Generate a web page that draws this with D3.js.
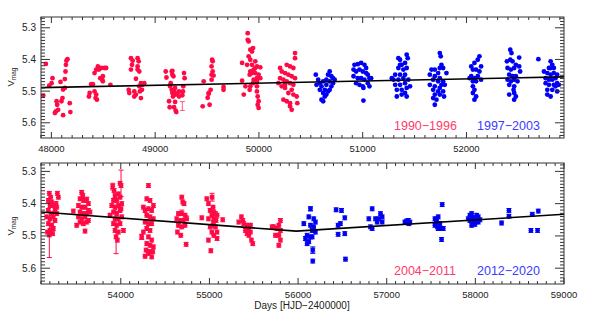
<!DOCTYPE html>
<html><head><meta charset="utf-8">
<script src="https://cdn.jsdelivr.net/npm/d3@7"></script>
<style>body{margin:0;background:#fff}svg{display:block}text{font-family:"Liberation Sans",Arial,sans-serif}</style>
</head><body><svg id="c" width="589" height="324"></svg>
<script>
// ---------- DATA ----------
const topXTicks = [48000, 49000, 50000, 51000, 52000];
const botXTicks = [54000, 55000, 56000, 57000, 58000, 59000];
const yTicks = [5.3, 5.4, 5.5, 5.6];
const topLegend = ["1990\u22121996", "1997\u22122003"];
const botLegend = ["2004\u22122011", "2012\u22122020"];
const xTitle = "Days [HJD\u22122400000]";

const topTrend = [[47900, 5.489], [52940, 5.455]];
const botTrend = [[53100, 5.426], [55980, 5.485], [59000, 5.433]];

// 1990-1996 (red)
const topRed = [
[47947,5.414],[47922,5.514],[47979,5.483],[48011,5.459],[48002,5.475],[48050,5.532],[48043,5.564],[48034,5.569],[48065,5.559],[48056,5.543],[48088,5.471],[48097,5.532],[48107,5.522],[48113,5.576],[48113,5.495],[48130,5.490],[48130,5.462],[48136,5.438],[48140,5.417],[48145,5.404],[48155,5.399],[48177,5.538],[48183,5.566],
[48362,5.517],[48369,5.506],[48384,5.478],[48400,5.478],[48416,5.501],[48426,5.522],[48432,5.511],[48439,5.527],[48416,5.443],[48432,5.432],[48448,5.422],[48458,5.432],[48480,5.427],[48512,5.427],[48528,5.427],[48471,5.459],[48490,5.464],[48496,5.453],[48496,5.469],[48569,5.480],
[48767,5.396],[48783,5.404],[48831,5.396],[48841,5.406],[48777,5.417],[48767,5.432],[48831,5.422],[48831,5.432],[48847,5.438],[48815,5.461],[48745,5.496],[48751,5.506],[48799,5.501],[48799,5.517],[48815,5.511],[48847,5.485],[48863,5.475],[48879,5.480],[48895,5.475],[48853,5.501],[48863,5.522],[48873,5.496],
[49102,5.438],[49109,5.457],[49160,5.438],[49166,5.448],[49176,5.453],[49166,5.436],[49150,5.475],[49144,5.485],[49160,5.496],[49166,5.506],[49182,5.501],[49198,5.511],[49214,5.506],[49230,5.501],[49192,5.490],[49172,5.517],[49134,5.532],[49140,5.551],[49192,5.534],[49182,5.551],[49198,5.562],[49204,5.566],[49278,5.443],[49284,5.459],[49271,5.485],[49268,5.501],[49262,5.513],[49230,5.517],
[49458,5.548],[49468,5.469],[49506,5.521],[49516,5.508],[49525,5.543],[49535,5.496],[49544,5.464],[49544,5.448],[49554,5.438],[49554,5.406],[49544,5.422],[49563,5.451],[49659,5.487],[49659,5.496],[49517,5.506],[49549,5.401],
[49892,5.317],[49892,5.338],[49901,5.343],[49917,5.369],[49943,5.364],[49933,5.375],[49901,5.390],[49917,5.401],[49838,5.411],[49886,5.417],[49933,5.417],[49965,5.406],[49981,5.422],[50013,5.425],[49949,5.432],[49917,5.438],[49933,5.443],[49965,5.443],[49997,5.448],[49981,5.459],[50013,5.459],[49911,5.448],[49949,5.464],[49838,5.467],[49870,5.485],[49917,5.485],[49854,5.511],[49981,5.469],[49981,5.485],[49981,5.501],[49988,5.517],[49997,5.532],[49988,5.543],[49997,5.553],[49911,5.496],[49943,5.475],[49965,5.427],
[50348,5.380],[50348,5.396],[50268,5.417],[50300,5.422],[50332,5.427],[50204,5.427],[50220,5.438],[50252,5.443],[50284,5.448],[50316,5.453],[50348,5.459],[50204,5.459],[50236,5.464],[50268,5.469],[50300,5.475],[50332,5.480],[50188,5.475],[50220,5.485],[50252,5.490],[50316,5.496],[50284,5.506],[50332,5.511],[50364,5.517],[50236,5.527],[50268,5.532],[50300,5.538],[50300,5.548],[50316,5.559],[50370,5.538],[50252,5.480]
];
// 1997-2003 (blue)
const topBlue = [
[50548,5.448],[50571,5.464],[50555,5.480],[50587,5.475],[50603,5.485],[50619,5.469],[50635,5.496],[50650,5.480],[50666,5.448],[50682,5.438],[50698,5.453],[50714,5.459],[50730,5.464],[50682,5.469],[50698,5.485],[50666,5.501],[50619,5.506],[50635,5.517],[50603,5.527],[50650,5.511],[50587,5.496],[50682,5.496],[50650,5.464],[50714,5.475],[50619,5.532],
[50921,5.417],[50953,5.415],[50985,5.411],[51017,5.417],[51033,5.427],[50912,5.432],[50937,5.438],[50969,5.432],[51001,5.438],[51033,5.443],[51049,5.448],[51065,5.459],[51081,5.459],[50912,5.453],[50953,5.459],[50985,5.459],[51017,5.464],[50937,5.475],[50969,5.480],[51001,5.485],[51049,5.475],[51065,5.485],[51007,5.490],[51007,5.530],
[51344,5.396],[51360,5.401],[51424,5.385],[51434,5.396],[51408,5.411],[51376,5.417],[51344,5.427],[51392,5.432],[51424,5.427],[51313,5.448],[51360,5.448],[51408,5.448],[51297,5.464],[51344,5.464],[51392,5.459],[51440,5.464],[51313,5.480],[51360,5.480],[51408,5.475],[51456,5.485],[51329,5.496],[51376,5.496],[51424,5.490],[51329,5.517],[51376,5.511],[51408,5.506],[51424,5.517],[51360,5.417],[51281,5.459],
[51743,5.380],[51752,5.390],[51759,5.417],[51743,5.427],[51775,5.427],[51663,5.432],[51695,5.432],[51727,5.443],[51807,5.443],[51647,5.448],[51695,5.453],[51743,5.459],[51679,5.464],[51727,5.469],[51775,5.469],[51791,5.480],[51647,5.480],[51695,5.485],[51743,5.490],[51679,5.496],[51727,5.501],[51775,5.501],[51695,5.511],[51743,5.511],[51679,5.522],[51711,5.527],[51695,5.543],[51759,5.480],[51784,5.517],
[52125,5.390],[52109,5.401],[52077,5.411],[52141,5.422],[52046,5.422],[52062,5.432],[52093,5.432],[52125,5.438],[52046,5.453],[52077,5.459],[52109,5.453],[52141,5.464],[52030,5.459],[52062,5.485],[52077,5.496],[52062,5.506],[52093,5.517],[52077,5.527],[52062,5.469],[52093,5.469],
[52422,5.369],[52434,5.380],[52390,5.406],[52422,5.401],[52444,5.406],[52476,5.417],[52508,5.422],[52396,5.427],[52428,5.432],[52460,5.427],[52412,5.448],[52444,5.453],[52476,5.453],[52396,5.464],[52428,5.469],[52460,5.464],[52412,5.480],[52460,5.485],[52492,5.469],[52412,5.511],[52460,5.506],[52476,5.517],[52460,5.527],[52508,5.394],[52517,5.438],[52454,5.496],[52693,5.399],
[52811,5.406],[52827,5.417],[52795,5.427],[52842,5.427],[52747,5.438],[52779,5.443],[52811,5.448],[52842,5.443],[52874,5.448],[52763,5.459],[52795,5.464],[52827,5.464],[52858,5.459],[52763,5.475],[52795,5.480],[52842,5.480],[52874,5.475],[52779,5.496],[52827,5.496],[52874,5.501],[52779,5.511],[52811,5.517],[52858,5.485],[52890,5.480],[52811,5.427]
];
// representative error bar, top panel [day, mag, err]
const topErr = [[49262, 5.547, 0.014]];

// 2004-2011 (red)
const botRed = [
[53194,5.368],[53209,5.380],[53285,5.368],[53296,5.380],[53183,5.390],[53221,5.395],[53202,5.406],[53239,5.406],[53258,5.421],[53183,5.421],[53221,5.431],[53277,5.431],[53164,5.441],[53202,5.447],[53239,5.441],[53258,5.452],[53183,5.462],[53221,5.467],[53239,5.477],[53202,5.483],[53172,5.488],[53232,5.493],[53270,5.400],[53277,5.411],[53194,5.497],
[53465,5.423],[53559,5.365],[53571,5.375],[53540,5.385],[53578,5.390],[53616,5.388],[53635,5.400],[53522,5.406],[53559,5.411],[53597,5.411],[53635,5.421],[53540,5.426],[53578,5.431],[53616,5.431],[53522,5.441],[53559,5.447],[53597,5.441],[53635,5.452],[53540,5.457],[53578,5.462],[53616,5.457],[53503,5.467],[53597,5.485],[53653,5.426],
[53909,5.347],[53924,5.359],[53992,5.337],[54003,5.344],[53935,5.375],[53973,5.370],[53917,5.390],[53954,5.390],[53992,5.380],[53898,5.406],[53935,5.411],[53973,5.406],[54011,5.400],[53917,5.426],[53954,5.431],[53992,5.421],[53935,5.447],[53973,5.447],[54011,5.441],[53917,5.462],[53954,5.467],[53992,5.462],[53935,5.483],[53973,5.488],[53947,5.503],[53962,5.513],[54030,5.483],[53879,5.436],[54003,5.416],
[54312,5.344],[54293,5.385],[54330,5.390],[54368,5.406],[54255,5.411],[54274,5.421],[54312,5.416],[54349,5.421],[54293,5.436],[54330,5.441],[54368,5.447],[54274,5.457],[54312,5.462],[54349,5.462],[54293,5.477],[54330,5.483],[54255,5.488],[54236,5.503],[54312,5.503],[54349,5.513],[54293,5.524],[54330,5.529],[54368,5.534],[54285,5.544],[54323,5.549],[54361,5.549],[54274,5.563],[54312,5.554],[54349,5.565],
[54688,5.380],[54699,5.395],[54714,5.400],[54650,5.431],[54688,5.431],[54725,5.436],[54631,5.447],[54669,5.452],[54707,5.452],[54744,5.447],[54650,5.467],[54688,5.472],[54725,5.467],[54639,5.488],[54677,5.498],[54737,5.526],
[54914,5.444],[54970,5.385],[54989,5.400],[55008,5.421],[55027,5.436],[54989,5.447],[55045,5.457],[55008,5.472],[55027,5.488],[54989,5.513],[55016,5.546],[55041,5.411],[55049,5.426],[55068,5.431],[55086,5.436],[55049,5.447],[55075,5.452],[55041,5.467],[55068,5.472],[55086,5.488],[55049,5.498],[55086,5.508],[55150,5.450],[55030,5.380],
[55361,5.441],[55376,5.452],[55331,5.457],[55387,5.462],[55425,5.467],[55463,5.467],[55444,5.477],[55406,5.483],[55463,5.488],[55425,5.493],[55444,5.498],[55474,5.513],[55489,5.524],
[55801,5.452],[55783,5.467],[55726,5.472],[55764,5.477],[55801,5.483],[55745,5.498],[55783,5.498],[55801,5.513],[55783,5.529],[55707,5.472]
];
// 2012-2020 (blue)
const botBlue = [
[56140,5.416],[56177,5.447],[56196,5.457],[56121,5.441],[56065,5.462],[56140,5.467],[56159,5.483],[56177,5.472],[56196,5.488],[56102,5.498],[56140,5.503],[56083,5.508],[56121,5.518],[56159,5.503],[56102,5.524],[56166,5.544],[56166,5.578],
[56429,5.419],[56490,5.421],[56527,5.444],[56478,5.462],[56452,5.467],[56452,5.495],[56527,5.493],[56535,5.572],
[56836,5.416],[56930,5.431],[56798,5.447],[56873,5.447],[56911,5.447],[56949,5.441],[56892,5.457],[56949,5.457],[56836,5.477],[56817,5.472],
[57205,5.457],[57224,5.454],[57243,5.452],[57262,5.457],[57250,5.462],
[57544,5.447],[57581,5.441],[57562,5.457],[57600,5.462],[57544,5.467],[57574,5.472],[57611,5.477],[57638,5.477],[57581,5.477],[57626,5.403],[57619,5.511],[57562,5.450],
[57939,5.436],[57958,5.431],[57976,5.444],[58014,5.436],[58033,5.441],[57920,5.447],[57976,5.452],[58014,5.452],[58052,5.450],[57958,5.467],[57995,5.464],[58033,5.457],[57939,5.452],
[58296,5.460],[58379,5.421],[58379,5.439],[58642,5.433],[58710,5.423],[58627,5.483],[58702,5.483]
];
// larger error bars, bottom panel [day, mag, err]
const botErrRed = [[53194, 5.497, 0.070], [54003, 5.337, 0.041], [53947, 5.480, 0.075], [54236, 5.503, 0.008], [54688, 5.428, 0.008], [55030, 5.380, 0.012], [53616, 5.388, 0.008], [53909, 5.347, 0.010], [54737, 5.444, 0.006]];
const botErrBlue = [[56166, 5.544, 0.010], [56140, 5.416, 0.006], [57562, 5.450, 0.008]];

// ---------- DRAW ----------
const RED = "#ff0a45", BLUE = "#0000f5";
const svg = d3.select("#c");
const L = 41, R = 564;

function panel(o) {
  const g = svg.append("g");
  const x = d3.scaleLinear().domain(o.xd).range([L, R]);
  const y = d3.scaleLinear().domain(o.yd).range([o.top, o.bot]);
  const line = d3.line().x(d => x(d[0])).y(d => y(d[1]));

  // points
  const dots = (arr, col) => g.append("g").selectAll("circle").data(arr).join("circle")
    .attr("cx", d => x(d[0])).attr("cy", d => y(d[1])).attr("r", 2.4).attr("fill", col);
  const errs = (arr, col, w) => {
    const eg = g.append("g").attr("stroke", col).attr("stroke-width", w);
    arr.forEach(d => {
      const cx = x(d[0]), y0 = y(d[1] - d[2]), y1 = y(d[1] + d[2]);
      eg.append("line").attr("x1", cx).attr("x2", cx).attr("y1", y0).attr("y2", y1);
      eg.append("line").attr("x1", cx - 2.5).attr("x2", cx + 2.5).attr("y1", y0).attr("y2", y0);
      eg.append("line").attr("x1", cx - 2.5).attr("x2", cx + 2.5).attr("y1", y1).attr("y2", y1);
    });
  };
  if (o.small) {
    errs(o.red.map(d => [d[0], d[1], 0.006]), RED, 1);
    errs(o.blue.map(d => [d[0], d[1], 0.006]), BLUE, 1);
  }
  dots(o.red, RED);
  dots(o.blue, BLUE);
  if (o.errRed) errs(o.errRed, o.errColor || RED, 1);
  if (o.errBlue) errs(o.errBlue, BLUE, 1);

  // trend
  g.append("path").datum(o.trend).attr("d", line).attr("fill", "none")
    .attr("stroke", "#000").attr("stroke-width", 1.6);

  // ticks
  const tk = g.append("g").attr("stroke", "#333").attr("stroke-width", 1);
  const xmin = d3.range(Math.ceil(o.xd[0] / 100) * 100, o.xd[1] + 1, 100);
  xmin.forEach(v => {
    const major = v % 1000 === 0;
    const len = major ? 6 : 3;
    tk.append("line").attr("x1", x(v)).attr("x2", x(v)).attr("y1", o.bot).attr("y2", o.bot - len);
    tk.append("line").attr("x1", x(v)).attr("x2", x(v)).attr("y1", o.top).attr("y2", o.top + len);
  });
  const ymin = d3.range(Math.ceil(o.yd[0] * 100), Math.floor(o.yd[1] * 100) + 1).map(v => v / 100);
  ymin.forEach(v => {
    const major = Math.round(v * 100) % 10 === 0;
    const len = major ? 9 : 4;
    tk.append("line").attr("y1", y(v)).attr("y2", y(v)).attr("x1", L).attr("x2", L + len);
    tk.append("line").attr("y1", y(v)).attr("y2", y(v)).attr("x1", R).attr("x2", R - len);
  });

  // box
  g.append("rect").attr("x", L).attr("y", o.top).attr("width", R - L).attr("height", o.bot - o.top)
    .attr("fill", "none").attr("stroke", "#333").attr("stroke-width", 1);

  // tick labels
  g.append("g").selectAll("text").data(o.xticks).join("text")
    .attr("x", d => x(d)).attr("y", o.bot + 14).attr("text-anchor", "middle")
    .attr("font-size", 9.5).attr("fill", "#222").text(d => d);
  g.append("g").selectAll("text").data(yTicks).join("text")
    .attr("x", L - 5).attr("y", d => y(d) + 3.5).attr("text-anchor", "end")
    .attr("font-size", 10).attr("fill", "#222").text(d => d.toFixed(1));

  // y label
  const yl = g.append("text").attr("transform", `translate(14,${o.ylab}) rotate(-90)`)
    .attr("text-anchor", "middle").attr("fill", "#222");
  yl.append("tspan").attr("font-size", 9.5).text("V");
  yl.append("tspan").attr("font-size", 6.5).attr("dy", 2).text("mag");

  // legend
  g.append("text").attr("x", 394).attr("y", o.leg).attr("font-size", 12.5).attr("fill", "#ff3b6b").text(o.legend[0]);
  g.append("text").attr("x", 477).attr("y", o.leg).attr("font-size", 12.5).attr("fill", "#3b3bff").text(o.legend[1]);
  return {x, y};
}

panel({xd: [47900, 52940], yd: [5.266, 5.648], top: 17, bot: 138, red: topRed, blue: topBlue,
  errRed: topErr, errColor: "#ff5c85", trend: topTrend, xticks: topXTicks, ylab: 77, leg: 130, legend: topLegend});
panel({xd: [53100, 59000], yd: [5.274, 5.649], top: 163, bot: 284, red: botRed, blue: botBlue, small: true,
  errRed: botErrRed, errBlue: botErrBlue, trend: botTrend, xticks: botXTicks, ylab: 226, leg: 275, legend: botLegend});

svg.append("text").attr("x", 302).attr("y", 309).attr("text-anchor", "middle")
  .attr("font-size", 10).attr("fill", "#222").text(xTitle);
</script></body></html>
